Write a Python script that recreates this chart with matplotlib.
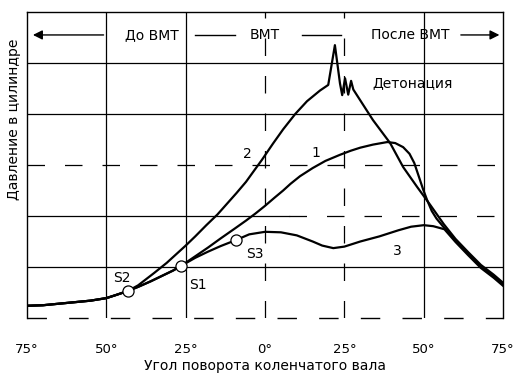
import numpy as np
import matplotlib
matplotlib.use("Agg")
import matplotlib.pyplot as plt

plt.rcParams['font.family'] = ['DejaVu Sans']

# common part of all curves (compression before spark S2)
base_x = [-75, -70, -65, -60, -55, -50, -47, -43.2]
base_y = [0.24, 0.25, 0.28, 0.31, 0.34, 0.39, 0.45, 0.53]

# 1 and 3 together from S2 to S1
s21_x = [-40, -36, -32, -29, -26.5]
s21_y = [0.61, 0.72, 0.84, 0.93, 1.02]

# all three merged at the end of expansion
tail_x = [56, 60, 64, 68, 72, 75]
tail_y = [1.8, 1.52, 1.26, 1.01, 0.82, 0.66]

# curve 1 - normal combustion, spark at S1
c1_x = [-22, -18, -14, -9.4, -6, -3, 0, 3, 5.7, 8, 11, 15, 19, 23.6, 27, 30, 34, 38.5, 41, 43.5, 45.5,
        47, 48.3, 49.8, 51, 52.5, 54]
c1_y = [1.21, 1.38, 1.56, 1.76, 1.91, 2.05, 2.2, 2.36, 2.5, 2.63, 2.78, 2.94, 3.08, 3.2, 3.28, 3.34, 3.4,
        3.45, 3.43, 3.35, 3.22, 3.04, 2.8, 2.52, 2.32, 2.1, 1.95]

# curve 2 - early spark S2, detonation
c2_x = [-40, -35, -31, -28, -25, -22, -18.5, -15, -12, -9, -6, -3.8, -1, 2.5, 5.7, 9.5, 13.2, 17.3, 19.9,
        22, 23.6, 24.3, 25.2, 26.2, 27.1, 27.8, 31, 34, 39.4, 43.5, 47.9, 52]
c2_y = [0.64, 0.88, 1.08, 1.25, 1.42, 1.6, 1.82, 2.03, 2.24, 2.45, 2.67, 2.86, 3.1, 3.42, 3.7, 4.0, 4.25,
        4.46, 4.57, 5.35, 4.6, 4.37, 4.7, 4.38, 4.65, 4.48, 4.17, 3.88, 3.43, 2.96, 2.57, 2.22]

# curve 3 - late spark S3
c3_x = [-22, -18, -14, -9.1, -5, 0, 5, 10, 15, 18, 21.5, 25, 30, 36, 42, 46, 50, 53]
c3_y = [1.18, 1.3, 1.41, 1.53, 1.64, 1.69, 1.68, 1.62, 1.5, 1.42, 1.37, 1.4, 1.5, 1.6, 1.72, 1.79, 1.82, 1.8]

spark_x = [-43.2, -26.5, -9.1]
spark_y = [0.53, 1.02, 1.53]

tick_pos = [-75, -50, -25, 0, 25, 50, 75]
tick_labels = ['75°', '50°', '25°', '0°', '25°', '50°', '75°']

fig = plt.figure(figsize=(5.17, 3.75), dpi=100)
ax = fig.add_axes([0.0522, 0.152, 0.921, 0.816])
ax.set_xlim(-75, 75)
ax.set_ylim(0, 6)

grid_kw = dict(color='black', lw=0.9, zorder=1)
dash = (0, (14, 16))
ax.axhline(1, **grid_kw)
ax.axhline(2, xmax=0.55, **grid_kw)
ax.axhline(2, xmin=0.55, ls=dash, **grid_kw)
ax.axhline(3, ls=dash, **grid_kw)
ax.axhline(4, **grid_kw)
ax.axhline(5, **grid_kw)
for xv in [-50, -25, 50]:
    ax.axvline(xv, **grid_kw)
for xv in [0, 25]:
    ax.axvline(xv, ls=dash, **grid_kw)

for s in ['left', 'right', 'top']:
    ax.spines[s].set_linewidth(1.0)
ax.spines['bottom'].set_visible(False)
ax.axhline(0, ls=dash, color='black', lw=1.0, clip_on=False)

lw = 1.6
x1 = base_x + s21_x + c1_x + tail_x
y1 = base_y + s21_y + c1_y + tail_y
x2 = base_x + c2_x + [56.3] + tail_x[1:]
y2 = base_y + c2_y + [1.84] + [v + 0.03 for v in tail_y[1:]]
x3 = base_x + s21_x + c3_x + [56.5] + tail_x[1:]
y3 = base_y + s21_y + c3_y + [1.74] + [v - 0.03 for v in tail_y[1:]]
ax.plot(x1, y1, color='black', lw=lw, zorder=3, solid_joinstyle='round')
ax.plot(x2, y2, color='black', lw=lw, zorder=3, solid_joinstyle='round')
ax.plot(x3, y3, color='black', lw=lw, zorder=3, solid_joinstyle='round')

ax.plot(spark_x, spark_y, 'o', ms=8, mfc='white', mec='black', mew=0.9, zorder=4)

lab_kw = dict(fontsize=10, ha='center', va='center')
ax.text(-45, 0.78, 'S2', **lab_kw)
ax.text(-21.1, 0.64, 'S1', **lab_kw)
ax.text(-3.3, 1.26, 'S3', **lab_kw)
ax.text(-5.5, 3.22, '2', **lab_kw)
ax.text(16.1, 3.24, '1', **lab_kw)
ax.text(41.6, 1.31, '3', **lab_kw)
ax.text(46.5, 4.6, 'Детонация', **lab_kw)

# header with arrows
hy = 5.55
ax.annotate('', xy=(-74, hy), xytext=(-50, hy),
            arrowprops=dict(arrowstyle='-|>', color='black', lw=1.0, mutation_scale=14))
ax.annotate('', xy=(74.7, hy), xytext=(60.8, hy),
            arrowprops=dict(arrowstyle='-|>', color='black', lw=1.0, mutation_scale=14))
ax.plot([-22, -9.4], [hy, hy], color='black', lw=1.0)
ax.plot([11.7, 24], [hy, hy], color='black', lw=1.0)
ax.text(-35.6, hy, 'До ВМТ', **lab_kw)
ax.text(0, hy, 'ВМТ', **lab_kw)
ax.text(45.7, hy, 'После ВМТ', **lab_kw)

ax.set_xticks(tick_pos)
ax.set_xticklabels(tick_labels, fontsize=9.5)
ax.set_yticks([])
ax.tick_params(axis='x', length=0, pad=18)
ax.set_xlabel('Угол поворота коленчатого вала', fontsize=10, labelpad=2)
fig.text(0.027, 0.683, 'Давление в цилиндре', rotation=90, fontsize=10, ha='center', va='center')

fig.savefig('out.png', dpi=100)
